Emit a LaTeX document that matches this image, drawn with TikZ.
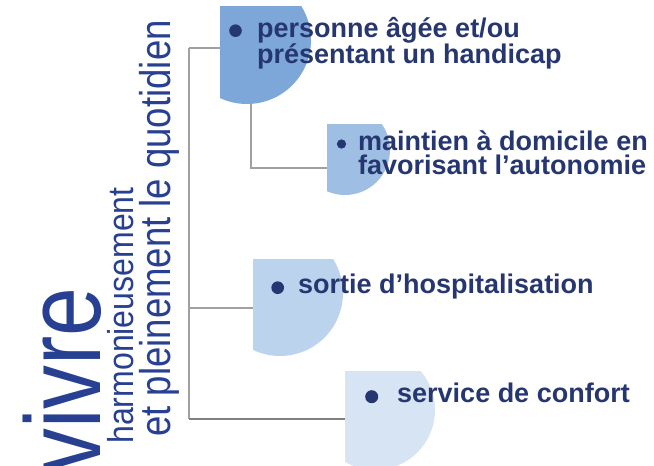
\documentclass[tikz,border=0pt]{standalone}
\usepackage{fontspec}
\setmainfont{Liberation Sans}
\usepackage{xcolor}
\usepackage{graphicx}
\usepackage{tikz}
\usetikzlibrary{positioning,calc}
\definecolor{navy}{RGB}{38,54,112}
\definecolor{vivreblue}{RGB}{40,64,145}
\definecolor{bluea}{RGB}{124,167,216}
\definecolor{blueb}{RGB}{158,191,227}
\definecolor{bluec}{RGB}{188,211,238}
\definecolor{blued}{RGB}{215,228,244}
\definecolor{linegray}{RGB}{160,160,160}
\tikzset{
  % traits de liaison
  conn/.style={draw=linegray, line width=1.1pt},
  % zone (cadre invisible du quart de disque)
  zone/.style={inner sep=0pt, outer sep=0pt, anchor=north west},
  % puce ronde
  puce/.style={circle, fill=navy, inner sep=0pt},
  % texte des rubriques
  item/.style={anchor=base west, inner sep=0pt, align=left, text=navy,
    font=\fontsize{27}{24}\selectfont\bfseries},
  % titre vertical
  vert/.style={rotate=90, anchor=base west, inner sep=0pt, text=vivreblue},
}

\begin{document}
\begin{tikzpicture}[x=1pt, y=1pt]
    \useasboundingbox (0,0) rectangle (654,466);

    % zones des quarts de disque
    \node[zone, minimum width=91pt, minimum height=97pt] (zoneA) at (220,459) {};
    \node[zone, minimum width=63pt, minimum height=70pt] (zoneB) at (327,341) {};
    \node[zone, minimum width=90pt, minimum height=96pt] (zoneC) at (253,206) {};
    \node[zone, minimum width=90pt, minimum height=94pt] (zoneD) at (345,94) {};

    % liaisons
    \coordinate (haut) at (189,418);
    \coordinate (milieu) at (189,158);
    \coordinate (bas) at (189,47);
    \coordinate (coude) at (251,298);
    \draw[conn] (haut) -- (bas);
    \draw[conn] (haut) -- (haut -| zoneA.west);
    \draw[conn] (milieu) -- (milieu -| zoneC.west);
    \draw[conn, draw=gray] (bas) -- (bas -| zoneD.west);
    \draw[conn] (coude |- zoneA.south) -- (coude) -- (coude -| zoneB.west);

    % quarts de disque
    \begin{scope}
        \clip (zoneA.north west) rectangle (zoneA.south east);
        \fill[bluea] (247,426) circle (64pt);
    \end{scope}
    \begin{scope}
        \clip (zoneB.north west) rectangle (zoneB.south east);
        \fill[blueb] (345,316) circle (45pt);
    \end{scope}
    \begin{scope}
        \clip (zoneC.north west) rectangle (zoneC.south east);
        \fill[bluec] (280,173) circle (63pt);
    \end{scope}
    \begin{scope}
        \clip (zoneD.north west) rectangle (zoneD.south east);
        \fill[blued] (375,56) circle (60pt);
    \end{scope}

    % rubriques (ancre sur la ligne de base de la dernière ligne)
    \node[puce, minimum size=12.6pt] (puceA) at (235.5,435.3) {};
    \node[item] (txtA) at (257,402) {personne âgée et/ou\\présentant un handicap};
    \node[puce, minimum size=9.3pt] (puceB) at (341.5,322) {};
    \node[item] (txtB) at (358,291) {maintien à domicile en\\favorisant l’autonomie};
    \node[puce, minimum size=12.7pt] (puceC) at (277.7,178.3) {};
    \node[item] (txtC) at (298,172) {sortie d’hospitalisation};
    \node[puce, minimum size=13pt] (puceD) at (371.7,69.3) {};
    \node[item] (txtD) at (397,63) {service de confort};

    % titre vertical
    \node[vert, font=\fontsize{107}{110}\selectfont] (vivre) at (100,-7) {\scalebox{0.82}[1]{vivre}};
    \node[vert, font=\fontsize{36}{40}\selectfont] (harmo) at (133,22) {\scalebox{0.89}[1]{harmonieusement}};
    \node[vert, font=\fontsize{43}{46}\selectfont] (plein) at (170,29) {\scalebox{0.85}[1]{et pleinement le quotidien}};
\end{tikzpicture}
\end{document}
